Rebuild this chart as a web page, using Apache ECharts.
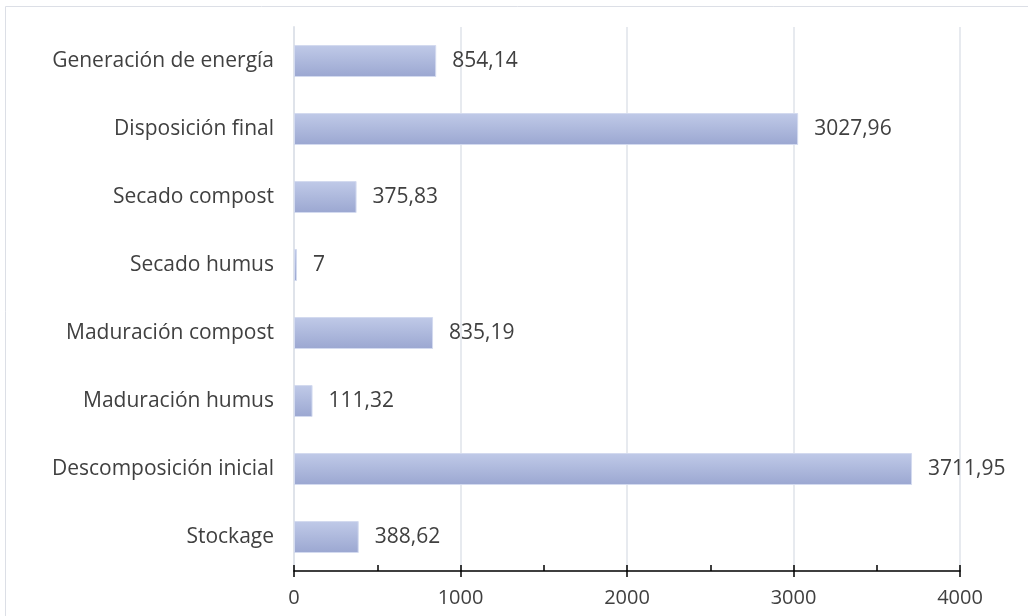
<!DOCTYPE html>
<html>
<head>
<meta charset="utf-8">
<script src="https://cdn.jsdelivr.net/npm/echarts@6/dist/echarts.min.js"></script>
<style>
  html, body { margin: 0; padding: 0; background: #ffffff; }
  #chart { width: 1028px; height: 616px; }
</style>
</head>
<body>
<div id="chart"></div>
<script>
// Process stages, listed bottom to top as drawn on the category axis
const categories = [
  'Stockage',
  'Descomposición inicial',
  'Maduración humus',
  'Maduración compost',
  'Secado humus',
  'Secado compost',
  'Disposición final',
  'Generación de energía'
];
const values = [388.62, 3711.95, 111.32, 835.19, 7, 375.83, 3027.96, 854.14];
const xTicks = [0, 1000, 2000, 3000, 4000];

const FONT = '"Open Sans", "Noto Sans", sans-serif';
const TEXT = '#404040';

const chart = echarts.init(document.getElementById('chart'), null, { renderer: 'canvas' });

// Decimal comma for the value labels
const fmt = v => String(v).replace('.', ',');

chart.setOption({
  animation: false,
  backgroundColor: '#ffffff',
  graphic: [{
    type: 'rect',
    shape: { x: 5.5, y: 6.5, width: 1040, height: 640 },
    style: { fill: 'none', stroke: '#dcdfe6', lineWidth: 1 },
    silent: true,
    z: -1
  }],
  grid: { left: 294, right: 68, top: 27, bottom: 45, containLabel: false },
  xAxis: [{
    // main axis: line, inner ticks every 500, labels every 1000
    type: 'value',
    min: xTicks[0],
    max: xTicks[xTicks.length - 1],
    interval: 500,
    axisLine: { show: true, lineStyle: { color: '#000000', width: 1.5 } },
    axisTick: { show: true, inside: true, length: 6, lineStyle: { color: '#000000', width: 1.5 } },
    axisLabel: {
      margin: 17,
      fontFamily: FONT, fontSize: 20, color: TEXT,
      formatter: v => (xTicks.indexOf(v) >= 0 ? String(v) : '')
    },
    splitLine: { show: false }
  }, {
    // overlay: outer ticks and gridlines at each 1000
    type: 'value',
    position: 'bottom',
    min: xTicks[0],
    max: xTicks[xTicks.length - 1],
    interval: 1000,
    axisLine: { show: false },
    axisTick: { show: true, inside: false, length: 6, lineStyle: { color: '#000000', width: 1.5 } },
    axisLabel: { show: false },
    splitLine: { show: true, lineStyle: { color: '#dfe3ea', width: 1.5 } }
  }],
  yAxis: {
    type: 'category',
    data: categories,
    axisLine: { show: true, lineStyle: { color: '#dfe3ea', width: 2 } },
    axisTick: { show: false },
    axisLabel: { margin: 20, fontFamily: FONT, fontSize: 21, color: TEXT }
  },
  series: [{
    type: 'bar',
    xAxisIndex: 0,
    data: values,
    barWidth: 32,
    barMinHeight: 3,
    itemStyle: {
      color: new echarts.graphic.LinearGradient(0, 0, 0, 1, [
        { offset: 0, color: '#c0cae8' },
        { offset: 1, color: '#9ba7d1' }
      ]),
      borderColor: '#d3daef',
      borderWidth: 1
    },
    label: {
      show: true,
      position: 'right',
      distance: 16,
      fontFamily: FONT, fontSize: 21, color: TEXT,
      formatter: p => fmt(p.value)
    }
  }]
});
</script>
</body>
</html>
